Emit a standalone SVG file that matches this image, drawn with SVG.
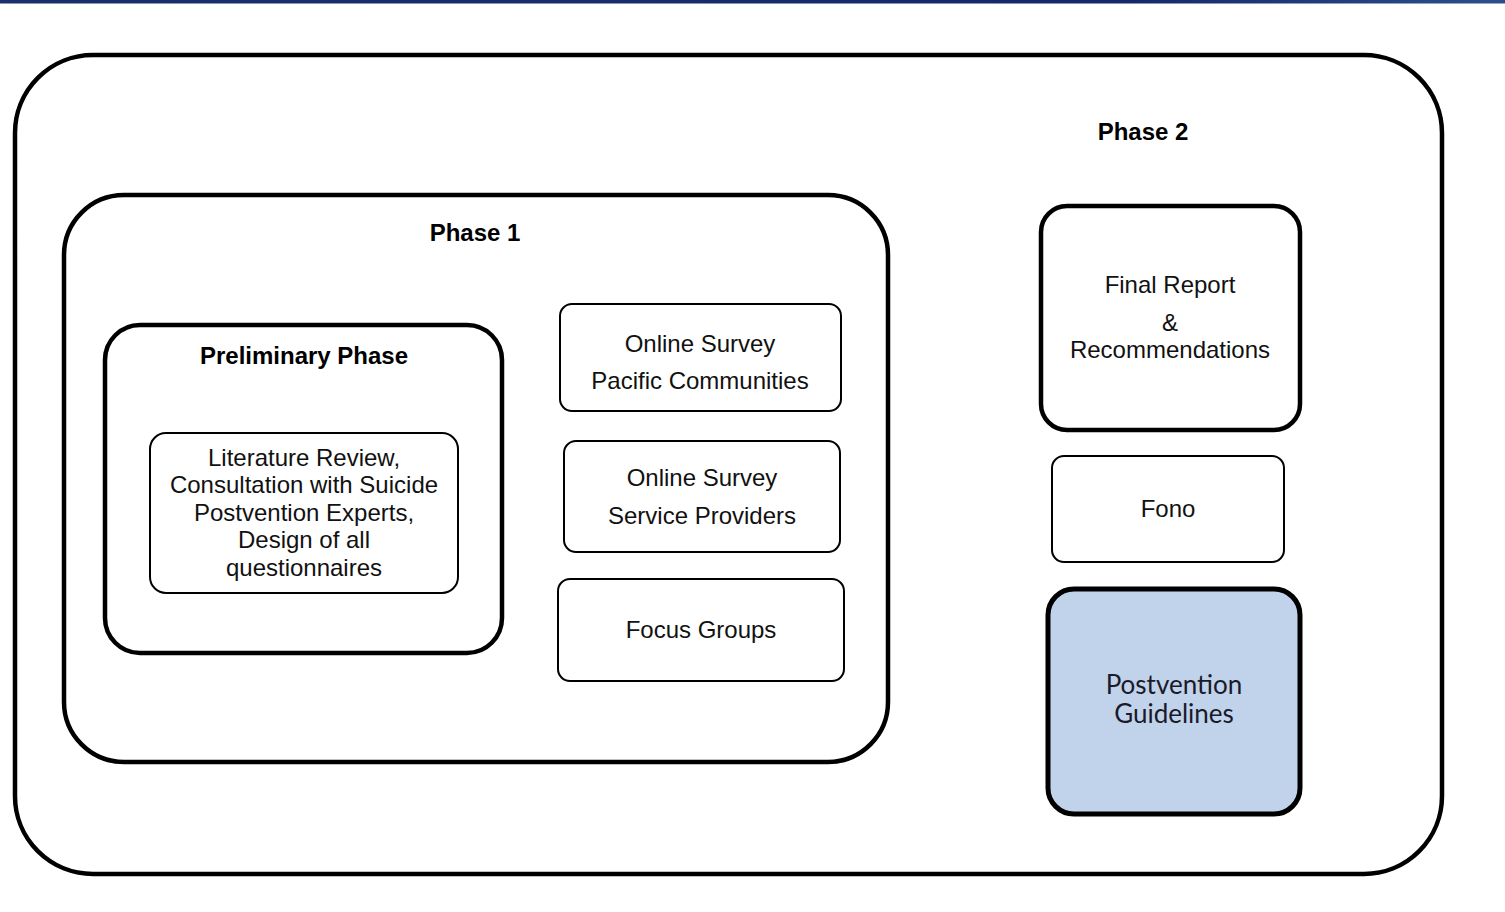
<svg xmlns="http://www.w3.org/2000/svg" width="1505" height="912" viewBox="0 0 1505 912">
<defs>
<linearGradient id="bar" x1="0" x2="1" y1="0" y2="0">
<stop offset="0" stop-color="#1c2f6b"/>
<stop offset="0.75" stop-color="#16286a"/>
<stop offset="1" stop-color="#2b4f8e"/>
</linearGradient>
</defs>
<style>
.thick{fill:#fff;stroke:#000;stroke-width:4.5}
.thin{fill:#fff;stroke:#000;stroke-width:2}
.t{font-family:"Liberation Sans",Arial,sans-serif;font-size:24px;fill:#111;text-anchor:middle}
.b{font-family:"Liberation Sans",Arial,sans-serif;font-size:24px;font-weight:bold;fill:#000;text-anchor:middle}
.c{font-family:Lato,"Open Sans",sans-serif;font-size:26px;fill:#1a1a2a;text-anchor:middle}
</style>
<rect x="0" y="0" width="1505" height="912" fill="#fff"/>
<rect x="0" y="0" width="1505" height="3.5" fill="url(#bar)"/>
<g id="phase2">
<rect class="thick" x="15" y="55" width="1427" height="819" rx="78" ry="78"/>
<text class="b" x="1143" y="140">Phase 2</text>
</g>
<g id="phase1">
<rect class="thick" x="64" y="195" width="824" height="567" rx="60" ry="60"/>
<text class="b" x="475" y="241">Phase 1</text>
</g>
<g id="preliminary">
<rect class="thick" x="105" y="325" width="397" height="328" rx="35" ry="35"/>
<text class="b" x="304" y="364">Preliminary Phase</text>
</g>
<g id="literature">
<rect class="thin" x="150" y="433" width="308" height="160" rx="16" ry="16"/>
<text class="t" x="304" y="466">Literature Review,</text>
<text class="t" x="304" y="493">Consultation with Suicide</text>
<text class="t" x="304" y="521">Postvention Experts,</text>
<text class="t" x="304" y="548">Design of all</text>
<text class="t" x="304" y="576">questionnaires</text>
</g>
<g id="survey-pacific">
<rect class="thin" x="560" y="304" width="281" height="107" rx="12" ry="12"/>
<text class="t" x="700" y="352">Online Survey</text>
<text class="t" x="700" y="389">Pacific Communities</text>
</g>
<g id="survey-providers">
<rect class="thin" x="564" y="441" width="276" height="111" rx="12" ry="12"/>
<text class="t" x="702" y="486">Online Survey</text>
<text class="t" x="702" y="524">Service Providers</text>
</g>
<g id="focus-groups">
<rect class="thin" x="558" y="579" width="286" height="102" rx="12" ry="12"/>
<text class="t" x="701" y="638">Focus Groups</text>
</g>
<g id="final-report">
<rect class="thick" x="1041" y="206" width="259" height="224" rx="26" ry="26"/>
<text class="t" x="1170" y="293">Final Report</text>
<text class="t" x="1170" y="331">&amp;</text>
<text class="t" x="1170" y="358">Recommendations</text>
</g>
<g id="fono">
<rect class="thin" x="1052" y="456" width="232" height="106" rx="12" ry="12"/>
<text class="t" x="1168" y="517">Fono</text>
</g>
<g id="guidelines">
<rect x="1048" y="589" width="252" height="225" rx="26" ry="26" fill="#c0d3ea" stroke="#000" stroke-width="5"/>
<text class="c" x="1174" y="694">Postvention</text>
<text class="c" x="1174" y="723">Guidelines</text>
</g>
<g id="connectors"/>
</svg>
